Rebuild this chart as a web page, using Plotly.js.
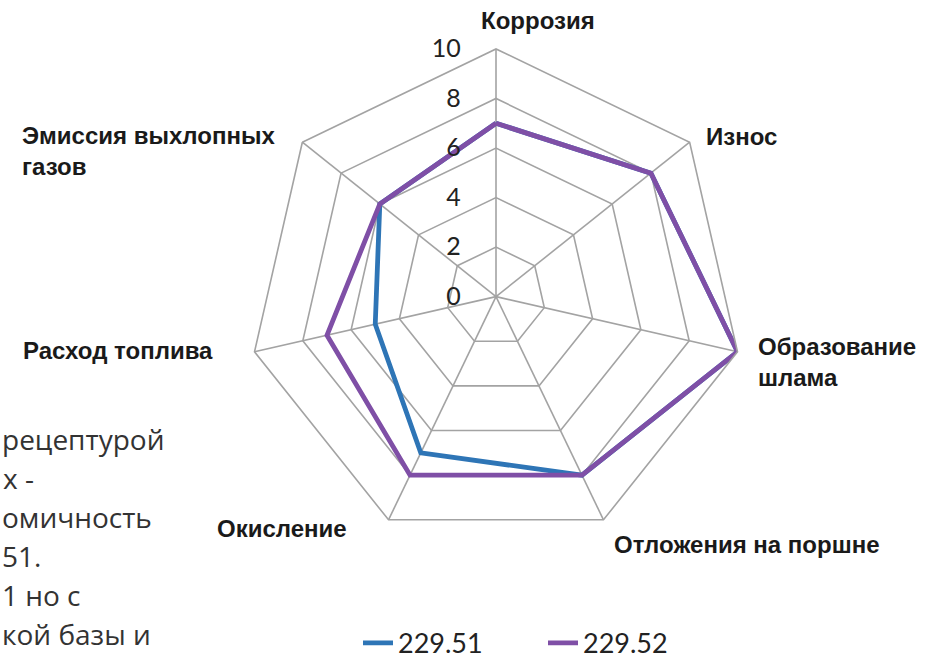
<!DOCTYPE html>
<html>
<head>
<meta charset="utf-8">
<script src="https://cdn.plot.ly/plotly-3.0.1.min.js"></script>
<style>
html,body{margin:0;padding:0;background:#fff;}
#chart{width:938px;height:668px;}
</style>
</head>
<body>
<div id="chart"></div>
<script>
var categories = ["Коррозия", "Износ", "Образование шлама", "Отложения на поршне", "Окисление", "Расход топлива", "Эмиссия выхлопных газов"];
var categoryLabels = ["Коррозия", "Износ", "Образование<br>шлама", "Отложения на поршне", "Окисление", "Расход топлива", "Эмиссия выхлопных<br>газов"];
var series1Name = "229.51";
var series1Values = [7, 8, 10, 8, 7, 5, 6];
var series2Name = "229.52";
var series2Values = [7, 8, 10, 8, 8, 7, 6];
var radialTicks = [0, 2, 4, 6, 8, 10];
var sideText = ["рецептурой", "х -", "омичность", "51.", "1 но с", "кой базы и"];

var W = 938, H = 668;
function px(x){ return x / W; }
function py(y){ return 1 - y / H; }
function closed(a){ return a.concat([a[0]]); }

var traces = [
  {
    type: "scatterpolar", mode: "lines", name: series1Name,
    r: closed(series1Values), theta: closed(categories),
    line: {color: "#2E75B6", width: 4.8}, hoverinfo: "skip"
  },
  {
    type: "scatterpolar", mode: "lines", name: series2Name,
    r: closed(series2Values), theta: closed(categories),
    line: {color: "#7F4FA6", width: 4.8}, hoverinfo: "skip"
  }
];

var labelPos = [
  {x: 538, y: 21, xa: "center"},
  {x: 704, y: 139, xa: "left"},
  {x: 756, y: 370, xa: "left"},
  {x: 612, y: 556, xa: "left"},
  {x: 215, y: 540, xa: "left"},
  {x: 21, y: 358, xa: "left"},
  {x: 20, y: 154, xa: "left"}
];

var annotations = categoryLabels.map(function(t, i){
  var p = labelPos[i];
  return {
    text: t, xref: "paper", yref: "paper",
    x: px(p.x), y: py(p.y), xanchor: p.xa, yanchor: "middle",
    align: "left", showarrow: false,
    font: {family: "Liberation Sans, Arial, sans-serif", size: 24, color: "#1a1a1a", weight: "bold"}
  };
});

var sideY = [448, 488, 528, 568, 608, 648];
var sideX = [0, 1, 0, 0, 0, 0];
sideText.forEach(function(t, i){
  annotations.push({
    text: t, xref: "paper", yref: "paper",
    x: px(sideX[i]), y: py(sideY[i]), xanchor: "left", yanchor: "middle",
    showarrow: false,
    font: {family: "Open Sans, sans-serif", size: 28, color: "#333333"}
  });
});

var gridColor = "#A3A3A3";

var layout = {
  width: W, height: H,
  margin: {l: 0, r: 0, t: 0, b: 0},
  paper_bgcolor: "#ffffff",
  showlegend: true,
  legend: {
    orientation: "h",
    x: px(358), y: py(657), xanchor: "left", yanchor: "middle",
    font: {family: "Lato, sans-serif", size: 27, color: "#222222"},
    entrywidth: 140,
    entrywidthmode: "pixels",
    tracegroupgap: 0
  },
  polar: {
    domain: {x: [px(243), px(749)], y: [py(556), py(50)]},
    gridshape: "linear",
    bgcolor: "rgba(0,0,0,0)",
    angularaxis: {
      type: "category",
      categoryorder: "array",
      categoryarray: categories,
      direction: "clockwise",
      rotation: 90,
      showticklabels: false,
      ticks: "",
      showline: true,
      linecolor: gridColor,
      linewidth: 1.6,
      showgrid: true,
      gridcolor: gridColor,
      gridwidth: 1.6
    },
    radialaxis: {
      range: [0, 10],
      tickvals: radialTicks,
      ticktext: radialTicks.map(String),
      angle: 90,
      tickangle: 90,
      side: "counterclockwise",
      showline: false,
      ticks: "outside",
      ticklen: 26,
      tickcolor: "rgba(0,0,0,0)",
      showgrid: true,
      gridcolor: gridColor,
      gridwidth: 1.6,
      tickfont: {family: "Lato, sans-serif", size: 25, color: "#222222"}
    }
  },
  annotations: annotations
};

Plotly.newPlot("chart", traces, layout, {displayModeBar: false, staticPlot: true});
</script>
</body>
</html>
